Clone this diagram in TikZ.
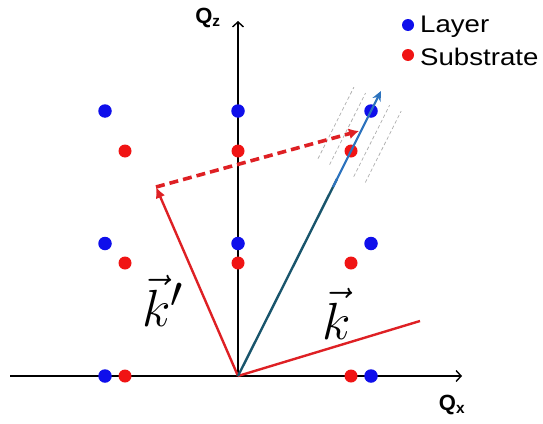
\documentclass[tikz,border=0pt]{standalone}
\usepackage{graphicx}
\usepackage{fontspec}
\newfontfamily\arialfont{Liberation Sans}
\usetikzlibrary{arrows.meta}
\definecolor{lay}{RGB}{15,15,235}
\definecolor{sub}{RGB}{240,20,20}
\definecolor{vecred}{RGB}{222,32,36}
\definecolor{tealk}{RGB}{25,85,108}
\definecolor{steel}{RGB}{45,115,190}
\begin{document}
\begin{tikzpicture}[x=1pt,y=-1pt,
  layerdot/.style={circle,fill=lay,inner sep=0pt,minimum size=13.5pt},
  subdot/.style={circle,fill=sub,inner sep=0pt,minimum size=13pt},
  axisline/.style={line width=1.5pt,-{Straight Barb[length=5pt,width=11pt,line width=1.4pt]}},
  redvec/.style={draw=vecred,line width=2.4pt},
  guide/.style={draw=gray!65,line width=0.7pt,dash pattern=on 3.5pt off 2.5pt},
  legtext/.style={anchor=base west,font=\arialfont\fontsize{24}{26}\selectfont,inner sep=0pt,xscale=1.15},
  axlabel/.style={font=\arialfont\bfseries\fontsize{22}{24}\selectfont,inner sep=0pt},
  veclabel/.style={font=\Huge,inner sep=0pt}
]
\useasboundingbox (0,0) rectangle (543,423);
% axes
\coordinate (O) at (238,376);
\coordinate (xl) at (10,376);
\coordinate (xr) at (462,376);
\coordinate (zt) at (238,21);
\draw[axisline] (xl) -- (xr);
\draw[axisline] (O) -- (zt);
\node[axlabel] (qz) at (208,18) {Q\textsubscript{z}};
\node[axlabel] (qx) at (452,405) {Q\textsubscript{x}};
% lattice points: layer
\node[layerdot] (l1) at (105,376) {};
\node[layerdot] (l2) at (371,376) {};
\node[layerdot] (l3) at (105,243.5) {};
\node[layerdot] (l4) at (238,243.5) {};
\node[layerdot] (l5) at (371,243.5) {};
\node[layerdot] (l6) at (105,111) {};
\node[layerdot] (l7) at (238,111) {};
\node[layerdot] (l8) at (371,111) {};
% lattice points: substrate
\node[subdot] (s1) at (125,376) {};
\node[subdot] (s2) at (351,376) {};
\node[subdot] (s3) at (125,263) {};
\node[subdot] (s4) at (238,263) {};
\node[subdot] (s5) at (351,263) {};
\node[subdot] (s6) at (125,151) {};
\node[subdot] (s7) at (238,151) {};
\node[subdot] (s8) at (351,151) {};
% legend
\node[layerdot,minimum size=12pt] (lgl) at (408,25) {};
\node[legtext] (lgltext) at (420,32) {Layer};
\node[subdot,minimum size=12pt] (lgs) at (408,55) {};
\node[legtext] (lgstext) at (420,65) {Substrate};
% guide lines around the reciprocal vector
\coordinate (g1a) at (318.0,158.7); \coordinate (g1b) at (353.9,87.2);
\coordinate (g2a) at (329.6,164.6); \coordinate (g2b) at (365.5,93.1);
\coordinate (g3a) at (353.7,176.7); \coordinate (g3b) at (389.6,105.2);
\coordinate (g4a) at (365.3,182.5); \coordinate (g4b) at (401.2,111.0);
\draw[guide] (g1a) -- (g1b);
\draw[guide] (g2a) -- (g2b);
\draw[guide] (g3a) -- (g3b);
\draw[guide] (g4a) -- (g4b);
% vectors
\coordinate (ke) at (420,321);
\coordinate (kp) at (156,187);
\coordinate (dh) at (359,131);
\coordinate (tm) at (337,179);
\coordinate (tb) at (333,187);
\coordinate (tt) at (381,91);
\draw[redvec] (O) -- (ke);
\draw[redvec,-{Latex[length=11pt,width=10pt]}] (O) -- (kp);
\draw[tealk,line width=2.4pt] (O) -- (tm);
\draw[steel,line width=2.2pt,-{Stealth[length=10pt,width=9pt]}] (tb) -- (tt);
\draw[redvec,line width=3.6pt,dash pattern=on 9pt off 5pt,-{Latex[length=10pt,width=11pt]}] (kp) -- (dh);
% labels
\node[veclabel] (klab) at (337,314) {\scalebox{2.1}{$\vec{k}$}};
\node[veclabel] (kplab) at (163,301) {\scalebox{2.1}{$\vec{k}'$}};
\end{tikzpicture}
\end{document}
